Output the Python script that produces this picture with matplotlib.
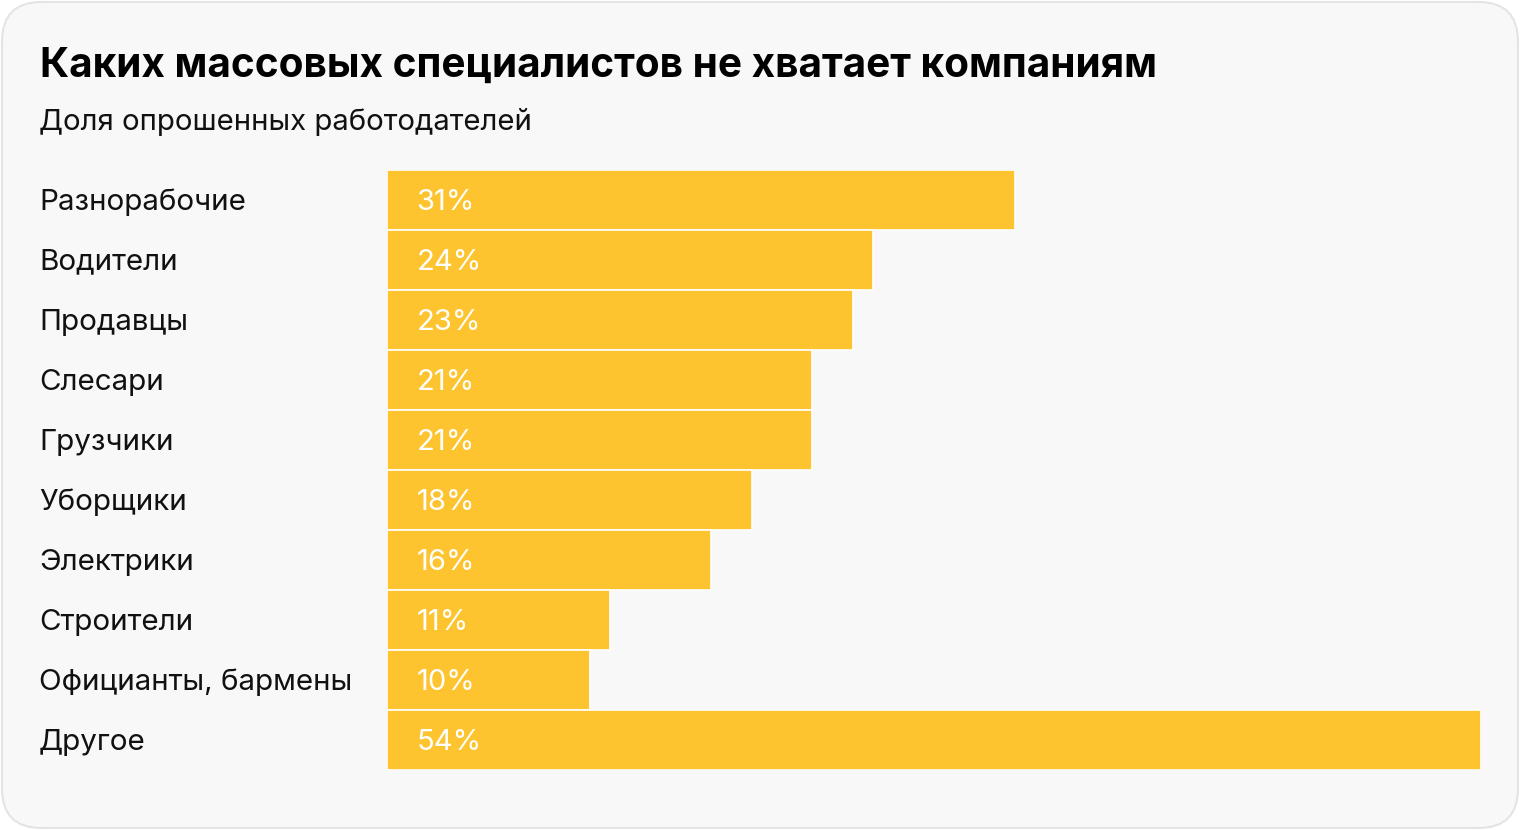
import matplotlib.pyplot as plt
from matplotlib.patches import FancyBboxPatch

categories = ['Разнорабочие', 'Водители', 'Продавцы', 'Слесари', 'Грузчики',
              'Уборщики', 'Электрики', 'Строители', 'Официанты, бармены', 'Другое']
values = [31, 24, 23, 21, 21, 18, 16, 11, 10, 54]
title = 'Каких массовых специалистов не хватает компаниям'
subtitle = 'Доля опрошенных работодателей'

plt.rcParams['font.family'] = ['Inter', 'DejaVu Sans']

W, H = 1520, 830
fig = plt.figure(figsize=(W / 100, H / 100), dpi=100)
fig.patch.set_facecolor('white')

# rounded card background
card = FancyBboxPatch((2 / W, 2 / H), (W - 4) / W, (H - 4) / H,
                      boxstyle='round,pad=0,rounding_size=0.026',
                      transform=fig.transFigure, facecolor='#f8f8f8',
                      edgecolor='#e4e4e4', linewidth=1.5, mutation_aspect=W / H,
                      zorder=-10)
fig.patches.append(card)

ax = fig.add_axes([387 / W, 1 - 770 / H, 1094 / W, 600 / H])
ax.set_facecolor('none')
ypos = list(range(len(categories)))
ax.barh(ypos, values, height=1.0, color='#fec42f', edgecolor='white', linewidth=1.2)
ax.set_xlim(0, 54)
ax.set_ylim(len(categories) - 0.5, -0.5)
ax.axis('off')

for y, v, c in zip(ypos, values, categories):
    ax.text(1.45, y + 0.035, f'{v}%', color='white', fontsize=21, va='center', ha='left')
    fig.text(39 / W, 1 - (202 + 60 * y) / H, c, fontsize=21.3, va='center', ha='left',
             color='#111111')

fig.text(40 / W, 1 - 66 / H, title, fontsize=29.2, fontweight='bold', va='center',
         ha='left', color='black')
fig.text(39 / W, 1 - 122 / H, subtitle, fontsize=21.1, va='center', ha='left',
         color='#111111')

fig.savefig('out.png', dpi=100, facecolor='white')
